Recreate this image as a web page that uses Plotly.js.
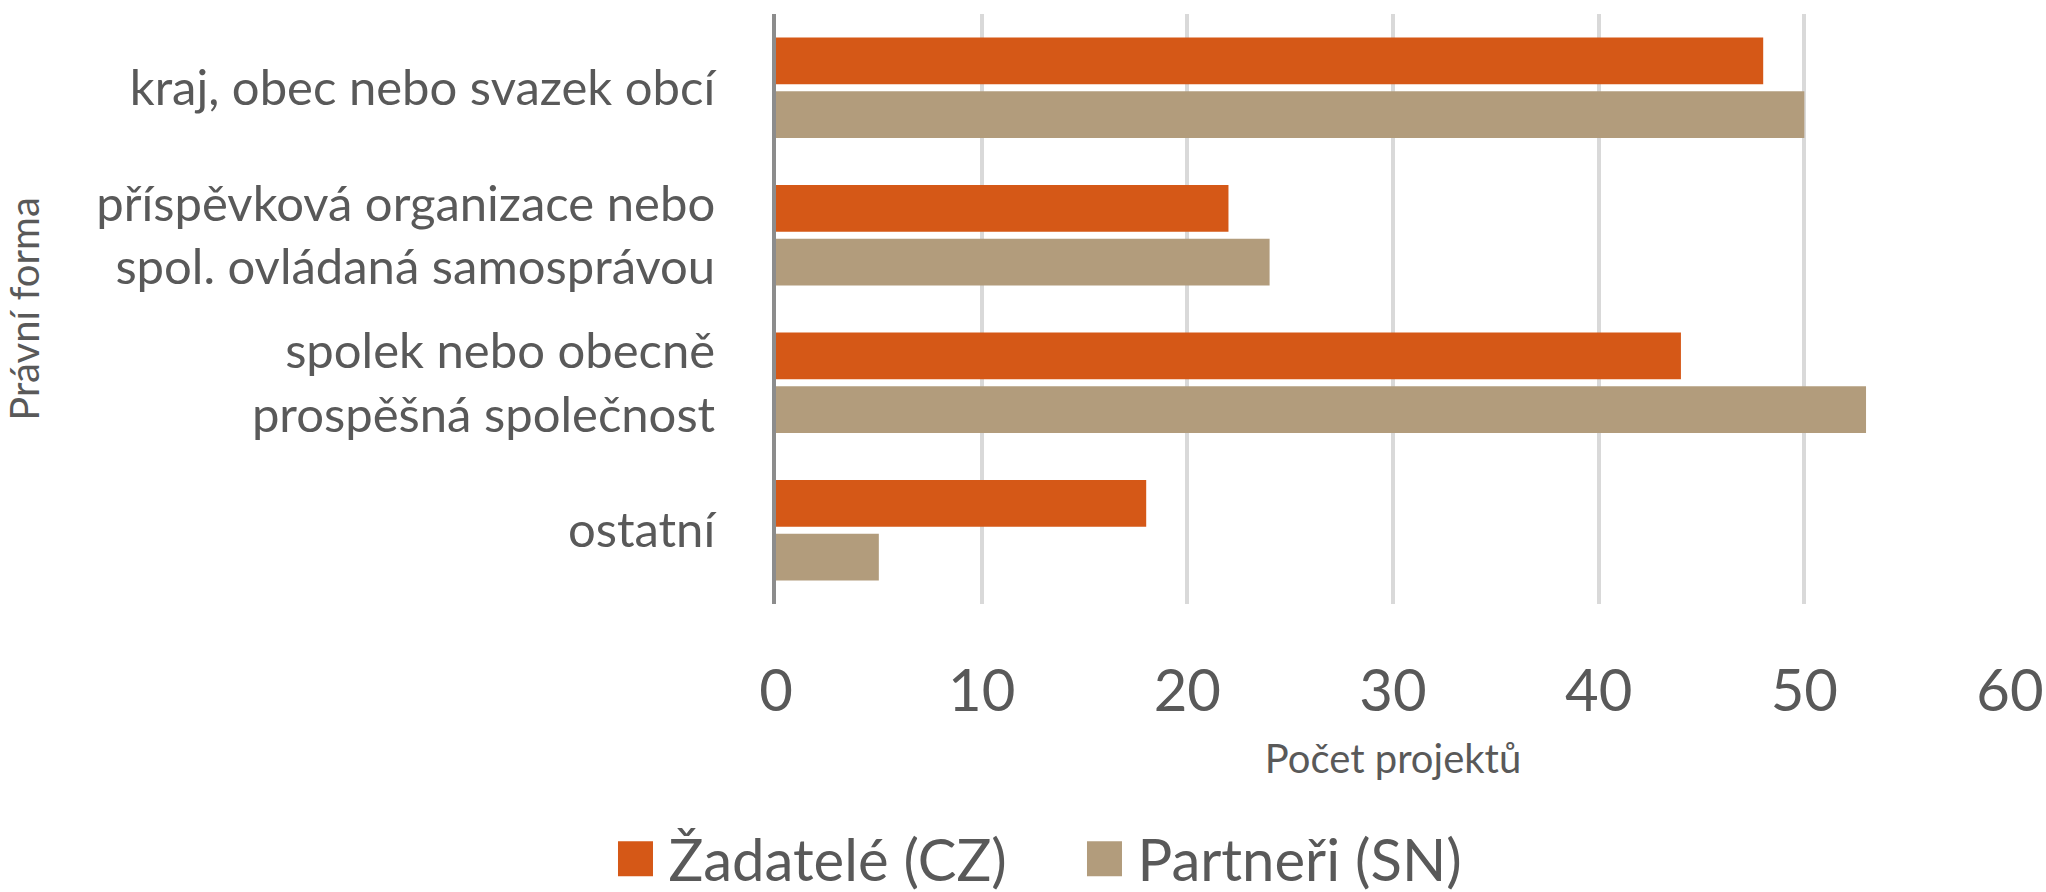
<!DOCTYPE html>
<html>
<head>
<meta charset="utf-8">
<script src="https://cdn.plot.ly/plotly-3.0.1.min.js"></script>
<style>
html, body { margin: 0; padding: 0; background: #fff; }
#chart { width: 2046px; height: 892px; }
</style>
</head>
<body>
<div id="chart"></div>
<script>
const categories = [
  "kraj, obec nebo svazek obcí",
  "příspěvková organizace nebo<br>spol. ovládaná samosprávou",
  "spolek nebo obecně<br>prospěšná společnost",
  "ostatní"
];
const zadateleCZ = [48, 22, 44, 18];
const partneriSN = [50, 24, 53, 5];
const seriesNames = ["Žadatelé (CZ)", "Partneři (SN)"];
const xTicks = [0, 10, 20, 30, 40, 50, 60];
const xTitle = "Počet projektů";
const yTitle = "Právní forma";

const FONT = "Lato, 'Open Sans', sans-serif";
const TXT = "#595959";

const traces = [
  {
    type: "bar", orientation: "h", name: seriesNames[0],
    y: categories, x: zadateleCZ,
    marker: { color: "#D55817" },
    hoverinfo: "x+name"
  },
  {
    type: "bar", orientation: "h", name: seriesNames[1],
    y: categories, x: partneriSN,
    marker: { color: "#B29C7C" },
    hoverinfo: "x+name"
  }
];

const layout = {
  width: 2046, height: 892,
  paper_bgcolor: "#ffffff", plot_bgcolor: "#ffffff",
  font: { family: FONT, color: TXT },
  margin: { l: 776, r: 36, t: 14, b: 288, pad: 0 },
  barmode: "group",
  bargap: 0.27,
  bargroupgap: 0.13,
  xaxis: {
    range: [0, 60],
    tickvals: xTicks,
    ticktext: xTicks.map(String),
    showgrid: true, gridcolor: "#d9d9d9", gridwidth: 4,
    zeroline: false, showline: false, ticks: "",
    tickfont: { family: FONT, size: 58, color: TXT },
    ticklabelstandoff: 48,
    title: { text: xTitle, font: { family: FONT, size: 40, color: TXT }, standoff: 22 },
    fixedrange: true
  },
  yaxis: {
    autorange: "reversed",
    showgrid: false, zeroline: false,
    showline: true, linecolor: "#8c8c8c", linewidth: 4,
    ticks: "",
    tickfont: { family: FONT, size: 49, color: TXT },
    ticklabelstandoff: 47,
    title: { text: yTitle, font: { family: FONT, size: 40, color: TXT }, standoff: 52 },
    fixedrange: true
  },
  showlegend: true,
  legend: {
    orientation: "h",
    xref: "container", yref: "container",
    x: 0.5237, xanchor: "center",
    y: 0.037, yanchor: "middle",
    font: { family: FONT, size: 58, color: TXT },
    itemwidth: 56,
    entrywidth: 398, entrywidthmode: "pixels",
    traceorder: "normal"
  }
};

function enlargeLegendSymbols() {
  const half = 17.5;
  document.querySelectorAll("#chart .legendpoints path").forEach(p => {
    p.setAttribute("d", `M${half},${half}H-${half}V-${half}H${half}Z`);
  });
}

Plotly.newPlot("chart", traces, layout, { displayModeBar: false, staticPlot: true })
  .then(enlargeLegendSymbols);
</script>
</body>
</html>
